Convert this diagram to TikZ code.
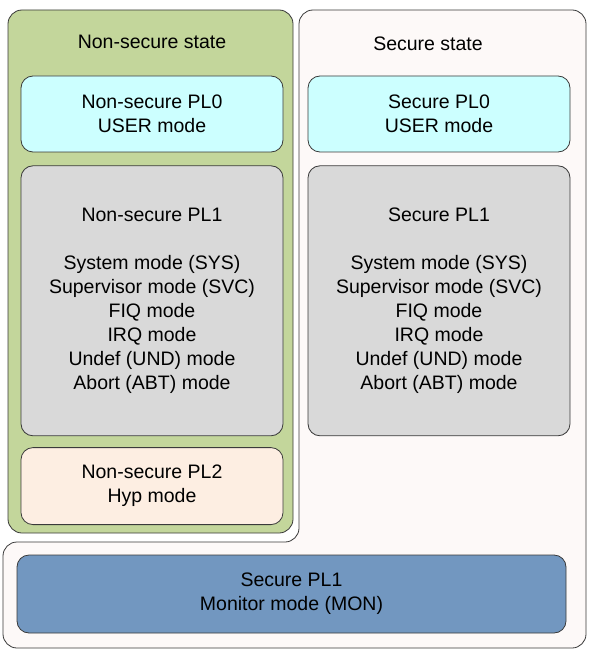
\documentclass[tikz,border=0pt]{standalone}
\usepackage{fontspec}
\setmainfont{Liberation Sans}
\usetikzlibrary{positioning}
\definecolor{nsgreen}{HTML}{C3D69B}
\definecolor{secpink}{HTML}{FDF9F8}
\definecolor{usercyan}{HTML}{CCFFFF}
\definecolor{plgray}{HTML}{D9D9D9}
\definecolor{hyppeach}{HTML}{FDEEE2}
\definecolor{monblue}{HTML}{7297C0}
\definecolor{edge}{HTML}{3A3A3A}

\begin{document}
\begin{tikzpicture}[x=1pt,y=-1pt,line width=0.8pt,node distance=12pt,every node/.style={font=\fontsize{19.5}{24}\selectfont,align=center},mode/.style={draw=edge,rounded corners=12pt,minimum width=262pt,inner sep=0pt}]
\useasboundingbox (0,0) rectangle (600,655);
\draw[draw=edge,fill=secpink,rounded corners=14pt](299,542)--(299,10)--(586,10)--(586,648)--(3,648)--(3,542)--cycle;
\node(NS)[draw=edge,fill=nsgreen,rounded corners=14pt,minimum width=285pt,minimum height=523pt,inner sep=0pt] at (150.5,271.5){};
\node(NST) at (152,42){Non-secure state};
\node(ST) at (428,44){Secure state};
\node(NS0)[mode,fill=usercyan,minimum height=76pt] at (152,114){Non-secure PL0\\USER mode};
\node(NS1)[mode,fill=plgray,minimum height=270pt,below=13pt of NS0]{Non-secure PL1\\[24pt]System mode (SYS)\\Supervisor mode (SVC)\\FIQ mode\\IRQ mode\\Undef (UND) mode\\Abort (ABT) mode};
\node(NS2)[mode,fill=hyppeach,minimum height=77pt,below=11pt of NS1]{Non-secure PL2\\Hyp mode};
\node(S0)[mode,fill=usercyan,minimum height=76pt] at (439,114){Secure PL0\\USER mode};
\node(S1)[mode,fill=plgray,minimum height=270pt,below=13pt of S0]{Secure PL1\\[24pt]System mode (SYS)\\Supervisor mode (SVC)\\FIQ mode\\IRQ mode\\Undef (UND) mode\\Abort (ABT) mode};
\node(MON)[mode,fill=monblue,minimum width=549pt,minimum height=78pt] at (291.5,594){Secure PL1\\Monitor mode (MON)};
\end{tikzpicture}
\end{document}
